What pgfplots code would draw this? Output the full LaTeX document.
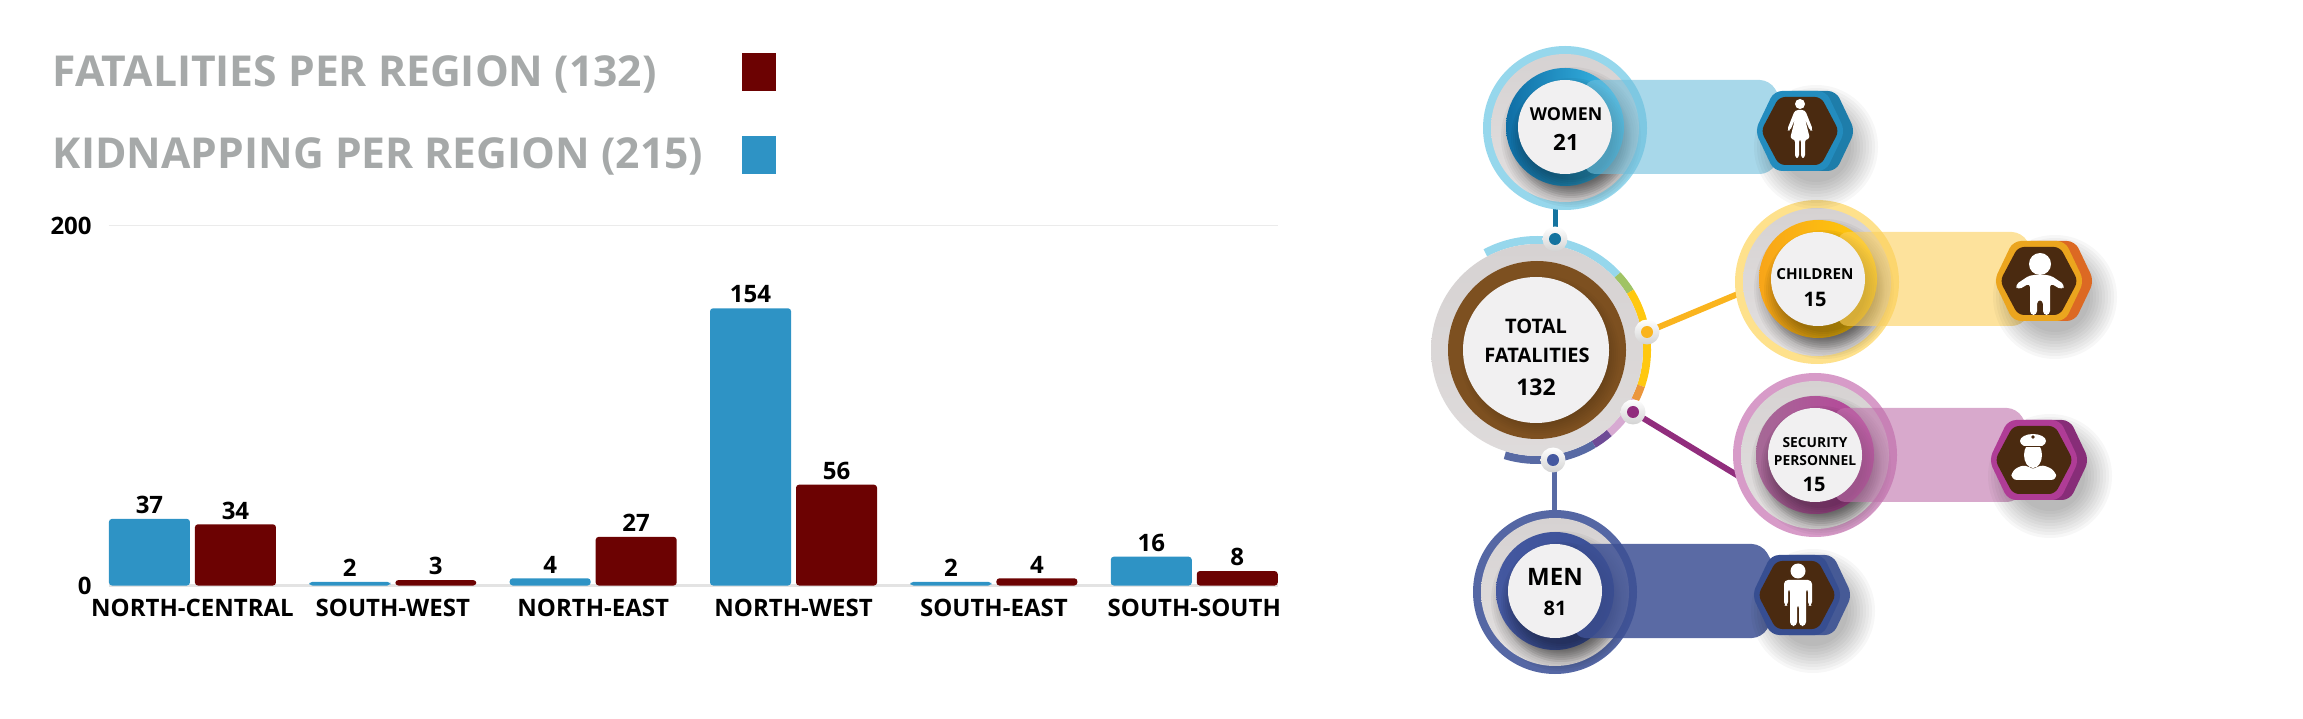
\documentclass[border=0pt]{standalone}
\usepackage{fontspec}
\setmainfont{Open Sans}
\usepackage{pgfplots}
\pgfplotsset{compat=1.18}

\definecolor{kidblue}{HTML}{2E93C5}
\definecolor{fatred}{HTML}{6C0202}
\definecolor{leggray}{HTML}{A6A9A9}
\definecolor{hexbrown}{HTML}{4A2A10}
\definecolor{discwhite}{HTML}{F1F0F1}
\definecolor{discgray}{HTML}{D6D2D2}
\definecolor{totbrown}{HTML}{7D5020}
% women
\definecolor{wOut}{HTML}{96D7EC}
\definecolor{wL}{HTML}{0F6EA5}
\definecolor{wR}{HTML}{3CBEEB}
\definecolor{wBand}{HTML}{6EBEDC}
\definecolor{wBack}{HTML}{1E7DAA}
\definecolor{wFront}{HTML}{238CBE}
\definecolor{wLine}{HTML}{14739F}
% children
\definecolor{cOut}{HTML}{FEE18C}
\definecolor{cL}{HTML}{F8A519}
\definecolor{cR}{HTML}{FFCD0A}
\definecolor{cBand}{HTML}{FCCF5A}
\definecolor{cBack}{HTML}{DC6923}
\definecolor{cFront}{HTML}{EBA51E}
\definecolor{cLine}{HTML}{FAB41E}
% security
\definecolor{sOut}{HTML}{D79BC8}
\definecolor{sL}{HTML}{A56996}
\definecolor{sR}{HTML}{B9419B}
\definecolor{sBand}{HTML}{BE70AA}
\definecolor{sBack}{HTML}{872D78}
\definecolor{sFront}{HTML}{AF3C96}
\definecolor{sLine}{HTML}{912D7D}
% men
\definecolor{mOut}{HTML}{5567A4}
\definecolor{mL}{HTML}{4458A0}
\definecolor{mR}{HTML}{3A4F96}
\definecolor{mBand}{HTML}{3D5094}
\definecolor{mBack}{HTML}{465A96}
\definecolor{mFront}{HTML}{374E91}
\definecolor{mLine}{HTML}{586AA4}
% ring segments
\definecolor{aGreen}{HTML}{A0C364}
\definecolor{aYellow}{HTML}{FFC80F}
\definecolor{aOrange}{HTML}{EB963C}
\definecolor{aPink}{HTML}{D7AAD2}
\definecolor{aPurple}{HTML}{6E4B96}

\newcommand{\fz}[1]{\fontsize{#1}{#1}\selectfont\bfseries}

% soft shadow: stacked faint discs. x, y, inner radius, outer radius, opacity of each disc
\newcommand{\softshadow}[5]{%
  \foreach \k in {0,...,9}{\fill[black,opacity=#5] ({#1},{#2}) circle[radius={#3+(#4-(#3))*\k/9}];}%
}

% outer x,y / inner x,y / outer ring / inner left,right / band colour / band end
\def\bandop{0.6}
\newcommand{\badge}[9]{%
  \fill[#5] (#1,#2) circle[radius=82];
  \shade[top color=discgray,bottom color=discgray!70!white] (#1,#2) circle[radius=74];
  \softshadow{#3+6}{#4+10}{50}{70}{0.04}
  \shade[left color=#6,right color=#7] (#3,#4) circle[radius=59];
  \softshadow{#3+6}{#4+11}{42}{60}{0.045}
  \fill[#8,opacity=\bandop,rounded corners=5] ({#3+20},{#4-47}) -- ({#9-5},{#4-47}) -- ({#9+12},{#4-17}) -- ({#9+12},{#4+17}) -- ({#9-5},{#4+47}) -- ({#3+20},{#4+47}) -- cycle;
  \fill[discwhite] (#3,#4) circle[radius=47];
}

\newcommand{\hexpath}[5]{({#1-#3},#2) -- ({#1-#4},{#2-#5}) -- ({#1+#4},{#2-#5}) -- ({#1+#3},#2) -- ({#1+#4},{#2+#5}) -- ({#1-#4},{#2+#5}) -- cycle}
% centre x,y / back colour / front colour
\newcommand{\hexa}[4]{%
  \softshadow{#1+16}{#2+16}{35}{62}{0.03}
  \fill[#3,rounded corners=4] \hexpath{#1+10}{#2}{45}{26}{40};
  \fill[#4,rounded corners=4] \hexpath{#1}{#2}{45}{26}{40};
  \fill[hexbrown,rounded corners=3] \hexpath{#1}{#2}{39}{21}{34};
}
% small dot on the central ring
\newcommand{\dotnode}[3]{%
  \shade[top color=white,bottom color=gray!35] (#1,#2) circle[radius=12.5];
  \fill[#3] (#1,#2) circle[radius=6];
}
\newcommand{\arcseg}[3]{\draw[#3,line width=4pt] (1537,350) ++({-(#1)}:110) arc[start angle={-(#1)},end angle={-(#2)},radius=110];}

\begin{document}
\begin{tikzpicture}
\path[use as bounding box] (0,0) rectangle (1151.5pt,359pt);

\begin{axis}[
    at={(54.35pt,66.25pt)},
    anchor=south west,
    scale only axis,
    width=584.65pt,
    height=180pt,
    ybar,
    bar width=40.5pt,
    xmin=-0.418, xmax=5.418,
    ymin=0, ymax=200,
    xtick={0,1,2,3,4,5},
    xticklabels={NORTH-CENTRAL,SOUTH-WEST,NORTH-EAST,NORTH-WEST,SOUTH-EAST,SOUTH-SOUTH},
    ytick={200},
    extra y ticks={0},
    extra y tick labels={0},
    extra y tick style={grid style={draw=black!11,line width=1.4pt}},
    ymajorgrids,
    grid style={draw=black!8,line width=0.6pt},
    axis line style={draw=none},
    major tick length=0pt,
    tick label style={font=\fz{12},/pgf/number format/assume math mode=true},
    xticklabel style={yshift=-3.5pt},
    yticklabel style={xshift=-5pt},
    clip=false,
    nodes near coords,
    every node near coord/.append style={font=\fz{12},black,/pgf/number format/assume math mode=true,yshift=-1pt},
    legend plot pos=right,
    reverse legend,
    legend style={at={(-0.0514,1.4845)},anchor=north west,draw=none,fill=none,
        font=\fz{21.3},text=leggray,row sep=20.3pt,inner sep=0pt,
        cells={anchor=west},
        /tikz/every odd column/.style={column sep=17.2pt}},
    legend image code/.code={\fill[#1,sharp corners] (0pt,-9.5pt) rectangle (17pt,9.5pt);},
]
\addplot[fill=kidblue,draw=none,rounded corners=1.5pt,bar shift=-21.5pt] coordinates {
    (0,37) (1,2) (2,4) (3,154) (4,2) (5,16)
};
\addlegendentry{KIDNAPPING PER REGION (215)}
\addplot[fill=fatred,draw=none,rounded corners=1.5pt,bar shift=21.5pt] coordinates {
    (0,34) (1,3) (2,27) (3,56) (4,4) (5,8)
};
\addlegendentry{FATALITIES PER REGION (132)}
\end{axis}

% infographic on the right, in pixels of the reference
\begin{scope}[shift={(0,359pt)},x=0.5pt,y=-0.5pt]

% connectors
\draw[wLine,line width=2.5pt] (1555,195) -- (1555,240);
\draw[cLine,line width=3pt] (1647,332) -- (1745,291);
\draw[sLine,line width=3pt] (1633,412) -- (1745,480);
\draw[mLine,line width=2.5pt] (1554,460) -- (1554,515);

% central disc and its ring
\arcseg{118}{43}{wOut}
\arcseg{43}{32}{aGreen}
\arcseg{32}{-19}{aYellow}
\arcseg{-19}{-27}{aOrange}
\arcseg{-27}{-49}{aPink}
\arcseg{-49}{-59}{aPurple}
\arcseg{-59}{-107}{mLine}
\shade[top color=discgray,bottom color=discgray!80!white] (1537,350) circle[radius=106];
\fill[totbrown] (1537,350) circle[radius=89];
\softshadow{1540}{355}{62}{80}{0.02}
\fill[discwhite] (1536,350) circle[radius=73];

\dotnode{1555}{239}{wLine}
\dotnode{1647}{332}{cLine}
\dotnode{1633}{412}{sLine}
\dotnode{1553}{460}{mL}

% the four badges
\badge{1565}{128}{1565}{127}{wOut}{wL}{wR}{wBand}{1775}
\badge{1817}{282}{1818}{279}{cOut}{cL}{cR}{cBand}{2027}
\badge{1815}{455}{1815}{455}{sOut}{sL}{sR}{sBand}{2022}
\def\bandop{0.85}
\badge{1555}{592}{1555}{591}{mOut}{mL}{mR}{mBand}{1767}

% hexagons
\hexa{1800}{131}{wBack}{wFront}
\hexa{2039}{281}{cBack}{cFront}
\hexa{2034}{460}{sBack}{sFront}
\hexa{1797}{595}{mBack}{mFront}

% woman
\begin{scope}[shift={(1800,131)},white]
\fill (0,-27) circle[radius=5];
\fill[rounded corners=1.5] (-5,-21) -- (5,-21) -- (13,-1) -- (10,0) -- (5,-12) -- (10,8) -- (5,8) -- (5,27) -- (1,27) -- (1,8) -- (-1,8) -- (-1,27) -- (-5,27) -- (-5,8) -- (-10,8) -- (-5,-12) -- (-10,0) -- (-13,-1) -- cycle;
\end{scope}
% child
\begin{scope}[shift={(2039,281)},white]
\fill (1,-17) circle[radius=11];
\fill[rounded corners=2] (-9,-6) -- (11,-6) -- (26,4) -- (23,9) -- (11,2) -- (11,34) -- (4,34) -- (4,19) -- (-2,19) -- (-2,34) -- (-9,34) -- (-9,2) -- (-21,9) -- (-24,4) -- cycle;
\end{scope}
% officer
\begin{scope}[shift={(2034,460)},white]
\fill (-1,-5) ellipse[x radius=9,y radius=13];
\fill (-1,-19) ellipse[x radius=13,y radius=7];
\fill[hexbrown] (-1,-23) circle[radius=1.8];
\draw[hexbrown,line width=0.4pt] (-11,-14) -- (9,-14);
\fill[rounded corners=3] (-23,20) -- (-22,10) -- (-8,4) -- (-1,11) -- (6,4) -- (21,10) -- (23,20) -- cycle;
\end{scope}
% man
\begin{scope}[shift={(1797,595)},white]
\fill (1,-24) circle[radius=7.5];
\fill[rounded corners=2] (-13,-15) -- (15,-15) -- (15,11) -- (11,11) -- (11,-7) -- (9,-7) -- (9,31) -- (2,31) -- (2,9) -- (0,9) -- (0,31) -- (-7,31) -- (-7,-7) -- (-9,-7) -- (-9,11) -- (-13,11) -- cycle;
\end{scope}

% labels
\node[font=\fz{8.9}] at (1566,114) {WOMEN};
\node[font=\fz{11.2}] at (1566,142) {21};
\node[font=\fz{7.6}] at (1815,274) {CHILDREN};
\node[font=\fz{10}] at (1815,299) {15};
\node[font=\fz{6.9}] at (1815,443) {SECURITY};
\node[font=\fz{6.9}] at (1815,461) {PERSONNEL};
\node[font=\fz{10}] at (1814,484) {15};
\node[font=\fz{10}] at (1536,326) {TOTAL};
\node[font=\fz{10}] at (1537,355) {FATALITIES};
\node[font=\fz{11.5}] at (1536,387) {132};
\node[font=\fz{12}] at (1555,577) {MEN};
\node[font=\fz{10}] at (1555,608) {81};
\end{scope}
\end{tikzpicture}
\end{document}
